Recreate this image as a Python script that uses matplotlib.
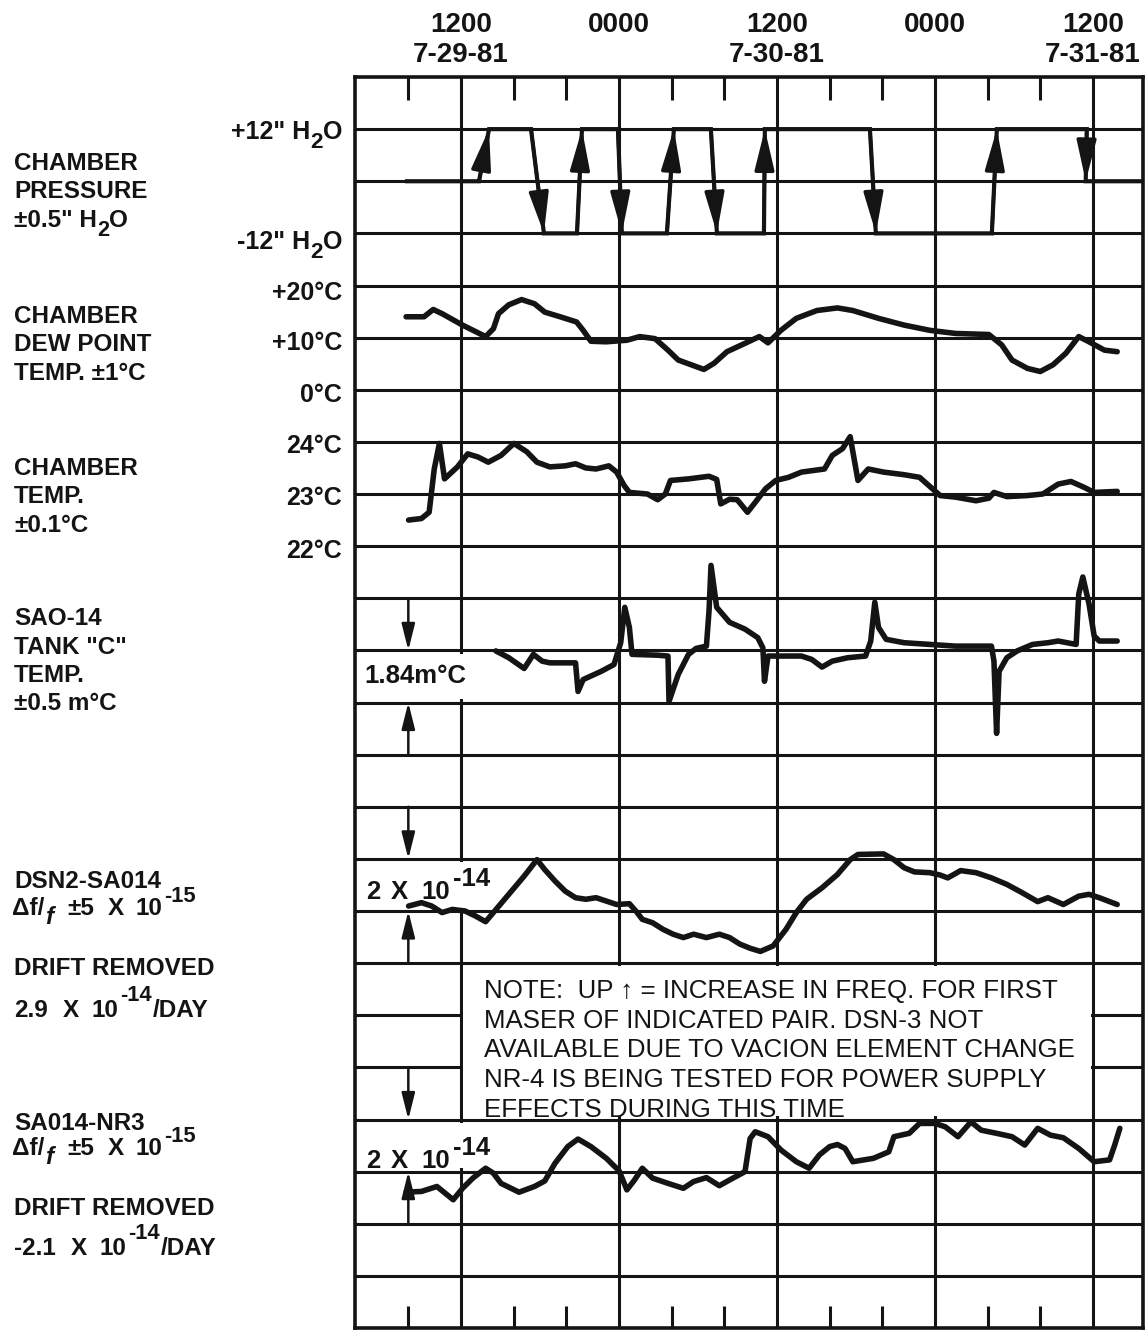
import matplotlib
matplotlib.use('Agg')
import matplotlib.pyplot as plt
from matplotlib.patches import Rectangle

FAM = ['Liberation Sans Narrow', 'Liberation Sans', 'DejaVu Sans']
plt.rcParams['font.family'] = FAM
INK = '#141414'

# ---------------- data ----------------
# time in hours from 0000 on 7-29-81
major_hours = [12, 24, 36, 48, 60]
major_time = ['1200', '0000', '1200', '0000', '1200']
major_date = ['7-29-81', '', '7-30-81', '', '7-31-81']
minor_hours = [8, 16, 20, 28, 32, 40, 44, 52, 56]

# chamber pressure (inches H2O)
press_t = [7.9, 13.37, 14.13, 17.32, 18.30, 20.81, 21.19, 23.92, 24.22, 27.64, 28.17,
           30.98, 31.44, 35.01, 35.08, 43.06, 43.51, 52.32, 52.70, 59.53, 59.45, 63.8]
press_v = [0, 0, 12, 12, -12, -12, 12, 12, -12, -12, 12,
           12, -12, -12, 12, 12, -12, -12, 12, 12, 0, 0]

# chamber dew point (deg C)
dew_t = [7.83, 9.19, 9.89, 10.56, 12.12, 13.87, 14.46, 14.85, 15.63, 16.60, 17.58, 18.36,
         19.53, 20.78, 21.28, 21.87, 23.04, 24.60, 25.57, 26.74, 27.72, 28.50, 29.47, 30.45,
         31.23, 32.20, 33.57, 34.66, 35.32, 36.30, 37.47, 39.03, 40.59, 41.76, 43.71, 45.66,
         47.61, 49.56, 52.09, 53.07, 53.85, 55.02, 56.0, 56.97, 57.94, 58.92, 59.70, 60.87, 61.84]
dew_v = [14.0, 14.0, 15.4, 14.6, 12.4, 10.2, 11.7, 14.6, 16.3, 17.3, 16.5, 14.9,
         14.0, 13.0, 11.4, 9.3, 9.2, 9.5, 10.2, 9.8, 7.6, 5.7, 4.8, 3.9,
         5.1, 7.3, 8.9, 10.2, 9.0, 11.4, 13.7, 15.2, 15.7, 15.2, 13.7, 12.4,
         11.4, 10.8, 10.6, 8.6, 5.7, 4.1, 3.5, 4.8, 7.0, 10.2, 9.2, 7.6, 7.3]

# chamber temperature (deg C)
temp_t = [8.02, 9.0, 9.58, 9.97, 10.36, 10.75, 11.73, 12.51, 13.29, 14.07, 15.04, 16.02,
          17.0, 17.77, 18.75, 19.92, 20.70, 21.48, 22.26, 23.23, 23.82, 24.40, 24.79, 26.16,
          26.94, 27.52, 27.91, 29.28, 30.84, 31.42, 31.73, 32.40, 32.98, 33.76, 34.35, 35.13,
          35.91, 36.88, 37.86, 39.61, 40.20, 40.98, 41.56, 42.15, 42.93, 44.10, 45.66, 46.83,
          47.41, 48.39, 49.56, 51.12, 52.09, 52.48, 53.46, 55.02, 56.19, 57.36, 58.33, 59.31,
          60.09, 61.84]
temp_v = [22.50, 22.53, 22.65, 23.48, 23.97, 23.29, 23.52, 23.77, 23.71, 23.61, 23.74, 23.97,
          23.81, 23.61, 23.52, 23.54, 23.58, 23.50, 23.48, 23.54, 23.42, 23.16, 23.03, 23.0,
          22.89, 23.0, 23.26, 23.29, 23.34, 23.28, 22.81, 22.90, 22.89, 22.65, 22.84, 23.10,
          23.26, 23.32, 23.42, 23.48, 23.74, 23.87, 24.10, 23.26, 23.48, 23.42, 23.37, 23.32,
          23.19, 22.97, 22.94, 22.87, 22.92, 23.03, 22.95, 22.97, 23.0, 23.19, 23.24, 23.13,
          23.03, 23.05]

# SAO-14 tank "C" temperature, deviation in m deg C
tank_t = [14.65, 15.63, 16.80, 17.50, 18.16, 18.75, 20.70, 20.89, 21.28, 22.65, 23.62, 24.13,
          24.44, 24.79, 24.99, 26.94, 27.72, 27.80, 28.50, 29.28, 29.86, 30.64, 30.84, 30.99,
          31.42, 32.40, 33.57, 34.54, 34.93, 35.05, 35.32, 37.86, 38.64, 39.42, 40.20, 41.37,
          42.73, 43.12, 43.43, 43.71, 44.29, 45.66, 47.61, 49.56, 52.29, 52.48, 52.68, 52.87,
          53.46, 54.24, 55.41, 56.58, 57.36, 58.72, 58.92, 59.23, 59.70, 60.09, 60.48, 61.84]
tank_v = [-0.02, -0.26, -0.64, -0.14, -0.38, -0.44, -0.44, -1.45, -1.03, -0.74, -0.50, 0.27,
          1.52, 0.81, -0.14, -0.17, -0.20, -1.80, -0.85, -0.14, 0.07, 0.15, 1.40, 3.00,
          1.52, 0.99, 0.75, 0.45, 0.09, -1.09, -0.20, -0.20, -0.32, -0.59, -0.38, -0.26,
          -0.20, 0.33, 1.70, 0.81, 0.39, 0.27, 0.21, 0.15, 0.15, -0.38, -2.93, -0.74,
          -0.26, -0.02, 0.21, 0.27, 0.33, 0.21, 1.99, 2.59, 1.64, 0.51, 0.33, 0.33]

# DSN2 - SA014 fractional frequency (units of 1e-14)
dsn_t = [8.02, 9.0, 9.78, 10.56, 11.34, 12.31, 13.09, 13.87, 14.46, 15.63, 16.80, 17.77,
         18.36, 19.14, 19.92, 20.70, 21.48, 22.26, 23.04, 23.82, 24.79, 25.38, 25.77, 26.55,
         27.33, 28.11, 28.89, 29.67, 30.64, 31.62, 32.40, 33.18, 33.96, 34.74, 35.71, 36.69,
         37.47, 38.25, 39.42, 40.59, 41.56, 42.15, 44.10, 44.88, 45.66, 46.44, 47.61, 48.39,
         48.97, 49.95, 51.12, 52.29, 53.46, 54.63, 55.80, 56.58, 57.75, 58.92, 59.70, 60.48,
         61.26, 61.84]
dsn_v = [0.19, 0.32, 0.19, -0.06, 0.06, 0.0, -0.19, -0.41, -0.06, 0.64, 1.34, 1.97,
         1.59, 1.15, 0.76, 0.51, 0.45, 0.51, 0.38, 0.25, 0.28, -0.06, -0.32, -0.45,
         -0.70, -0.89, -1.02, -0.89, -1.02, -0.89, -1.02, -1.27, -1.43, -1.55, -1.34, -0.70,
         -0.06, 0.45, 0.89, 1.40, 1.97, 2.17, 2.19, 1.97, 1.66, 1.50, 1.47, 1.38,
         1.27, 1.55, 1.47, 1.27, 1.02, 0.70, 0.36, 0.51, 0.25, 0.57, 0.64, 0.51,
         0.36, 0.25]

# SA014 - NR3 fractional frequency (units of 1e-14)
nr3_t = [7.83, 9.0, 10.17, 10.95, 11.41, 12.12, 12.90, 13.87, 14.46, 15.04, 16.41, 17.58,
         18.36, 19.14, 20.11, 20.89, 21.87, 23.04, 24.01, 24.60, 25.18, 25.77, 26.55, 27.72,
         28.89, 29.67, 30.64, 31.62, 32.40, 33.57, 33.96, 34.35, 35.32, 36.30, 37.47, 38.44,
         39.22, 40.0, 40.59, 41.17, 41.76, 43.32, 44.49, 44.88, 46.05, 46.83, 48.0, 48.78,
         49.75, 50.73, 51.51, 52.68, 53.85, 54.82, 55.80, 56.77, 57.75, 58.92, 60.09, 61.26,
         61.65, 62.04]
nr3_v = [-0.79, -0.76, -0.57, -0.89, -1.08, -0.64, -0.25, 0.13, -0.06, -0.45, -0.79, -0.57,
         -0.36, 0.32, 0.96, 1.25, 0.96, 0.51, 0.03, -0.70, -0.32, 0.13, -0.25, -0.45,
         -0.64, -0.38, -0.23, -0.54, -0.32, 0.0, 1.27, 1.53, 1.34, 0.83, 0.38, 0.13,
         0.64, 0.96, 1.04, 0.89, 0.38, 0.51, 0.76, 1.34, 1.47, 1.85, 1.85, 1.72,
         1.34, 1.91, 1.59, 1.47, 1.34, 1.02, 1.66, 1.40, 1.30, 0.89, 0.38, 0.45,
         1.02, 1.66]

note_lines = ['NOTE:  UP \u2191 = INCREASE IN FREQ. FOR FIRST',
              'MASER OF INDICATED PAIR. DSN-3 NOT',
              'AVAILABLE DUE TO VACION ELEMENT CHANGE',
              'NR-4 IS BEING TESTED FOR POWER SUPPLY',
              'EFFECTS DURING THIS TIME']

# ---------------- figure ----------------
W, H = 1145, 1333
fig = plt.figure(figsize=(W / 100, H / 100), dpi=100)
fig.patch.set_facecolor('white')
RND = fig.canvas.get_renderer()
L, R, T, B = 355, 1143, 77, 1328
pos = [L / W, 1 - B / H, (R - L) / W, (B - T) / H]
XLIM = (3.95, 63.8)
NROWS = 24


def rich(x_px, y_px, parts, size, weight='bold', ha='left', family=None):
    """parts: (text, raise_px, size_scale, gap_px, style) laid out left to right"""
    items, x = [], 0.0
    for s, dy, sc, gap, st in parts:
        x += gap
        kw = dict(fontsize=size * sc, fontweight=weight, fontstyle=st, color=INK,
                  va='baseline', ha='left')
        if family:
            kw['family'] = family
        t = fig.text(0, 0, s, **kw)
        w = t.get_window_extent(renderer=RND).width
        items.append((t, x, dy))
        x += w
    x0 = x_px - x if ha == 'right' else x_px
    for t, dx, dy in items:
        t.set_position(((x0 + dx) / W, 1 - (y_px - dy) / H))


def plain(s):
    return [(s, 0, 1, 0, 'normal')]


ax = fig.add_axes(pos)
ax.set_xlim(*XLIM)
ax.set_ylim(0, NROWS)
ax.set_xticks([])
ax.set_yticks([])
for s in ax.spines.values():
    s.set_linewidth(2.6)
    s.set_color(INK)
ax.hlines(range(1, NROWS), XLIM[0], XLIM[1], color=INK, lw=2.2, zorder=1)
ax.vlines(major_hours, 0, NROWS, color=INK, lw=2.2, zorder=1)
ax.vlines(minor_hours, NROWS - 0.45, NROWS, color=INK, lw=2.2, zorder=1)
ax.vlines(minor_hours, 0, 0.42, color=INK, lw=2.2, zorder=1)

# note box blanking the grid
ax.add_patch(Rectangle((major_hours[0] + 0.15, 4.06), major_hours[-1] - major_hours[0] - 0.3, 2.88,
                       facecolor='white', edgecolor='none', zorder=2))
for i, line in enumerate(note_lines):
    fig.text(484 / W, 1 - (998 + 29.7 * i) / H, line, fontsize=18.6, color=INK,
             family=['Liberation Sans', 'DejaVu Sans'], va='baseline', ha='left')

# white backing behind the in-grid scale labels
for row, xend in [(12, 12.5), (8, 14.7), (3, 14.7)]:
    ax.add_patch(Rectangle((XLIM[0], row + 0.06), xend - XLIM[0], 0.88,
                           facecolor='white', edgecolor='none', zorder=2))

# top time labels
for h, tl, dl in zip(major_hours, major_time, major_date):
    ax.text(h, (B - 32) / (B - T), tl, transform=ax.get_xaxis_transform(),
            ha='center', va='baseline', fontsize=20, fontweight='bold', color=INK)
    if dl:
        ax.text(h, (B - 62) / (B - T), dl, transform=ax.get_xaxis_transform(),
                ha='center', va='baseline', fontsize=20, fontweight='bold', color=INK)


def panel(ref_row, ref_val, unit):
    a = fig.add_axes(pos, sharex=ax)
    a.set_ylim(ref_val - ref_row * unit, ref_val + (NROWS - ref_row) * unit)
    a.axis('off')
    a.patch.set_alpha(0)
    return a


CURVE = dict(color=INK, lw=4.0, solid_capstyle='round', solid_joinstyle='round')

ap = panel(22, 0, 12)
ap.plot(press_t, press_v, color=INK, lw=3.0, solid_joinstyle='miter')
for i in range(len(press_t) - 1):
    if press_v[i] != press_v[i + 1]:
        ap.annotate('', xy=(press_t[i + 1], press_v[i + 1]), xytext=(press_t[i], press_v[i]),
                    arrowprops=dict(arrowstyle='-|>,head_length=1.25,head_width=0.3',
                                    mutation_scale=20, lw=2.5, color=INK,
                                    shrinkA=0, shrinkB=0))

adw = panel(19, 10, 10)
adw.plot(dew_t, dew_v, **CURVE)

atp = panel(16, 23, 1)
atp.plot(temp_t, temp_v, **CURVE)

atk = panel(13, 0, 1.84)
atk.plot(tank_t, tank_v, **CURVE)

ads = panel(8, 0, 2)
ads.plot(dsn_t, dsn_v, **CURVE)

anr = panel(3, 0, 2)
anr.plot(nr3_t, nr3_v, **CURVE)

# scale indicator arrows at 0800
DIM = dict(arrowstyle='-|>,head_length=1.0,head_width=0.25', mutation_scale=16, lw=1.8,
           color=INK, shrinkA=0, shrinkB=0)
for top, bot in [(13, 12), (9, 8), (4, 3)]:
    ax.annotate('', xy=(8, top), xytext=(8, top + 1), arrowprops=DIM, zorder=4)
    ax.annotate('', xy=(8, bot), xytext=(8, bot - 1), arrowprops=DIM, zorder=4)

N = 'normal'
# in-grid scale labels
rich(364, 683, plain('1.84m\u00b0C'), 18.5)
for yb in (899, 1168):
    rich(366, yb, [('2', 0, 1, 0, N), ('X', 0, 1, 11, N), ('10', 0, 1, 13, N),
                   ('-14', 13, 1.0, 3, N)], 18.5)

# axis value labels (right aligned)
for s, yb in [('+12" H', 139), ('-12" H', 249)]:
    rich(342, yb, [(s, 0, 1, 0, N), ('2', -9, 0.9, 0, N), ('O', 0, 1, 0, N)], 18, ha='right')
for s, yb in [('+20\u00b0C', 300), ('+10\u00b0C', 350), ('0\u00b0C', 402),
              ('24\u00b0C', 453), ('23\u00b0C', 505), ('22\u00b0C', 558)]:
    rich(342, yb, plain(s), 18, ha='right')

# group labels (left)
GS = 17.5
for s, yb in [('CHAMBER', 170), ('PRESSURE', 198),
              ('CHAMBER', 323), ('DEW POINT', 351), ('TEMP. \u00b11\u00b0C', 380),
              ('CHAMBER', 475), ('TEMP.', 503), ('\u00b10.1\u00b0C', 532),
              ('SAO-14', 625), ('TANK "C"', 654), ('TEMP.', 682), ('\u00b10.5 m\u00b0C', 710),
              ('DSN2-SA014', 888), ('DRIFT REMOVED', 975),
              ('SA014-NR3', 1130), ('DRIFT REMOVED', 1215)]:
    rich(14, yb, plain(s), GS)
rich(14, 227, [('\u00b10.5" H', 0, 1, 0, N), ('2', -9, 0.9, 0, N), ('O', 0, 1, 0, N)], GS)
for yb in (915, 1155):
    rich(12, yb, [('\u0394f/', 0, 1, 0, N), ('f', -9, 1.0, 1, 'italic'),
                  ('\u00b15', 0, 1, 14, N), ('X', 0, 1, 13, N), ('10', 0, 1, 12, N),
                  ('-15', 13, 0.9, 2, N)], GS)
for s, yb in [('2.9', 1017), ('-2.1', 1255)]:
    rich(14, yb, [(s, 0, 1, 0, N), ('X', 0, 1, 15, N), ('10', 0, 1, 13, N),
                  ('-14', 16, 0.9, 1, N), ('/DAY', 0, 1, 1, N)], GS)

fig.savefig('out.png', dpi=100, facecolor='white')
